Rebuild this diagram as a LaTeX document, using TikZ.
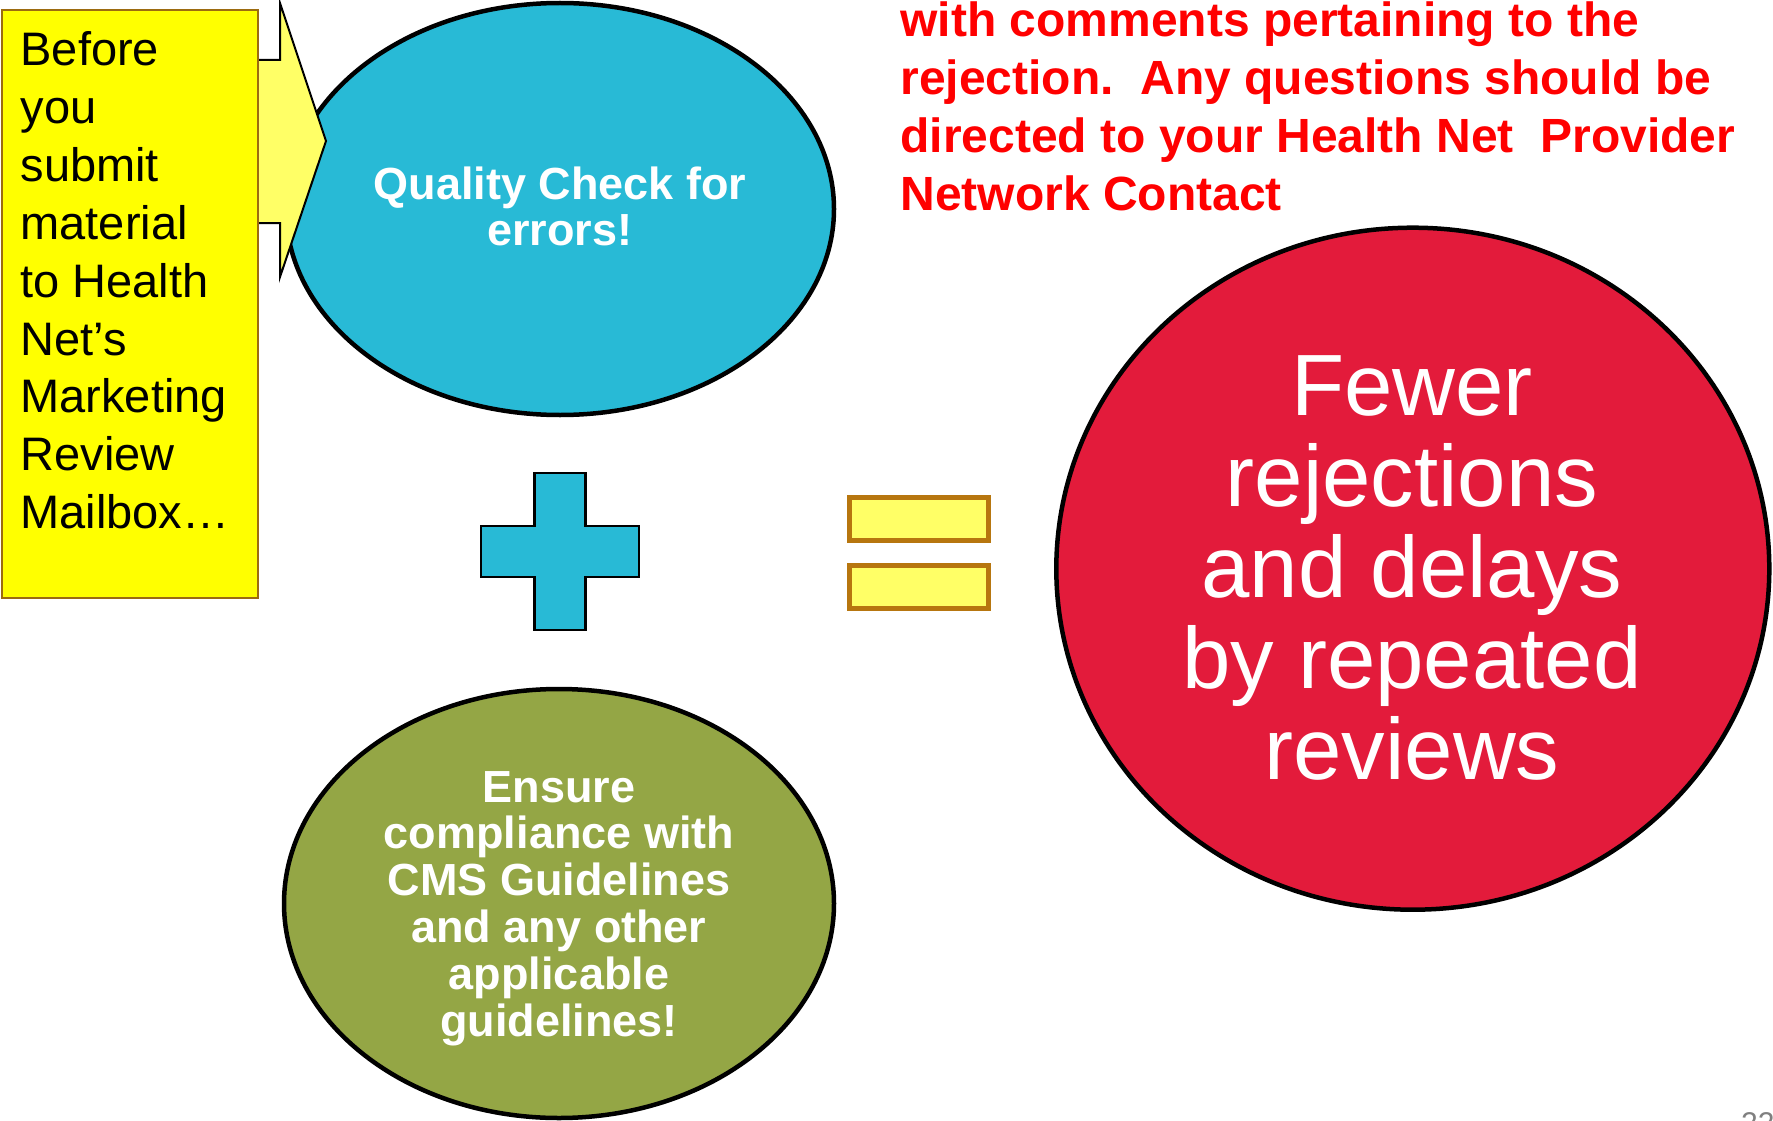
\documentclass[tikz,border=0pt]{standalone}
\usepackage{fontspec}
\setmainfont{Liberation Sans}
\usetikzlibrary{shapes.geometric}

\definecolor{qblue}{RGB}{40,186,214}
\definecolor{qgreen}{RGB}{148,166,69}
\definecolor{qred}{RGB}{227,27,59}
\definecolor{notered}{RGB}{255,0,0}
\definecolor{boxyellow}{RGB}{255,255,0}
\definecolor{paleyellow}{RGB}{255,255,102}
\definecolor{boxedge}{RGB}{156,107,16}
\definecolor{eqedge}{RGB}{183,118,15}

\begin{document}
\begin{tikzpicture}[x=1pt,y=-1pt,
  bubble/.style={ellipse, draw=black, line width=4.5pt, inner sep=0pt},
  bubbletext/.style={anchor=base, text=white, font=\fontsize{45}{47}\selectfont\bfseries},
  bigtext/.style={anchor=base, text=white, font=\fontsize{87}{89}\selectfont},
  notetext/.style={anchor=base west, text=notered, font=\fontsize{48}{58}\selectfont\bfseries},
  boxtext/.style={anchor=base west, text=black, font=\fontsize{47}{58}\selectfont},
  eqbar/.style={fill=paleyellow, draw=eqedge, line width=5pt},
  shapeline/.style={draw=black, line width=2.5pt, line join=miter}]
\useasboundingbox (0,0) rectangle (1773,1121);

% the three bubbles
\node[bubble, fill=qblue, minimum width=548pt, minimum height=412pt] (check) at (560,209) {};
\node[bubble, fill=qgreen, minimum width=550pt, minimum height=429pt] (comply) at (559,903.5) {};
\node[bubble, fill=qred, minimum width=713pt, minimum height=682pt] (result) at (1412.8,568.7) {};

% block arrow leading from the note box into the first bubble
\coordinate (tip) at (326,141);
\filldraw[fill=paleyellow, shapeline, line width=2pt]
  (250,60) -- (280,60) -- (280,3) -- (tip) -- (280,277) -- (280,223) -- (250,223) -- cycle;

% note box on the left
\node[draw=boxedge, line width=2pt, fill=boxyellow, anchor=north west,
      minimum width=256pt, minimum height=588pt, inner sep=0pt] (note) at (1,9) {};
\foreach \t [count=\i] in {Before, you, submit, material, {to Health}, Net’s, Marketing, Review, Mailbox…}
  \node[boxtext] (n\i) at (17, {66+57.8*(\i-1)}) {\t};

% bubble texts
\foreach \t [count=\i] in {Quality Check for, errors!}
  \node[bubbletext] (q\i) at (560, {199+46.5*(\i-1)}) {\t};
\foreach \t [count=\i] in {Ensure, compliance with, CMS Guidelines, and any other, applicable, guidelines!}
  \node[bubbletext] (g\i) at (559, {802+46.8*(\i-1)}) {\t};
\foreach \t [count=\i] in {Fewer, rejections, and delays, by repeated, reviews}
  \node[bigtext] (r\i) at (1412, {415+91*(\i-1)}) {\t};

% plus sign
\filldraw[fill=qblue, shapeline] (534.5,473) -- (585.5,473) -- (585.5,526) -- (639,526) -- (639,577)
  -- (585.5,577) -- (585.5,630) -- (534.5,630) -- (534.5,577) -- (481,577) -- (481,526)
  -- (534.5,526) -- cycle;

% equals sign
\node[eqbar, anchor=north west, minimum width=139pt, minimum height=43pt, inner sep=0pt] (eqtop) at (847,495) {};
\node[eqbar, anchor=north west, minimum width=139pt, minimum height=43pt, inner sep=0pt] (eqbot) at (847,563) {};

% red note at the top right
\foreach \t [count=\i] in {with comments pertaining to the, {rejection.\ \ Any questions should be}, {directed to your Health Net\ \ Provider}, Network Contact}
  \node[notetext] (t\i) at (897, {36.5+58.1*(\i-1)}) {\t};

% page number at the lower edge
\node[anchor=north west, inner sep=0pt, text=gray, font=\fontsize{30}{30}\selectfont] (page) at (1741,1112) {22};
\end{tikzpicture}
\end{document}
